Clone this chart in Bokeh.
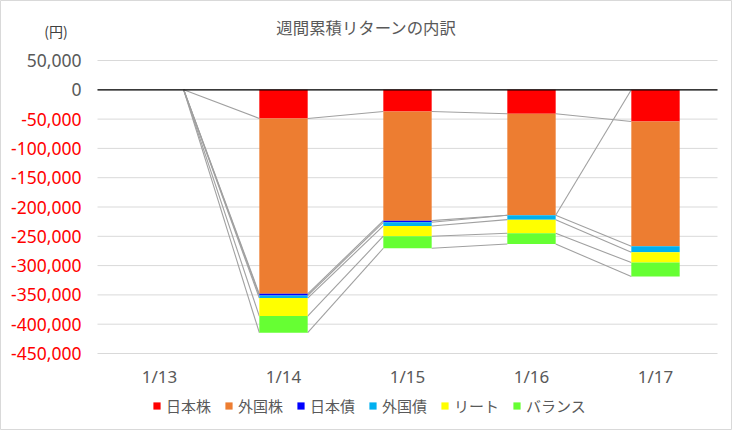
import numpy as np
from bokeh.plotting import figure
from bokeh.models import (ColumnDataSource, FixedTicker, NumeralTickFormatter,
                          Range1d, Label, LinearAxis)
from bokeh.embed import file_html
from bokeh.resources import INLINE

# ---- data ----
dates = ["1/13", "1/14", "1/15", "1/16", "1/17"]
nan = float("nan")
jp_stock = [nan, -48900, -37000, -40900, -54000]
fx_stock = [nan, -299300, -186300, -173300, -213100]
jp_bond = [nan, -2800, -2800, 0, nan]
fx_bond = [nan, -4500, -6200, -7400, -10200]
reit = [nan, -30700, -17600, -23300, -17600]
balance = [nan, -28300, -20500, -18200, -23900]
series_names = ["日本株", "外国株", "日本債", "外国債", "リート", "バランス"]
colors = ["#FF0000", "#ED7D31", "#0000FF", "#00B0F0", "#FFFF00", "#66FF33"]
y_ticks = list(range(-450000, 50001, 50000))
title_text = "週間累積リターンの内訳"
unit_text = "(円)"

# ---- layout (pixels) ----
W, H = 732, 430
PL, PR, PT, PB = 97, 717, 60, 353   # plot area inside the canvas
n = len(dates)
px_x = (PR - PL) / n
px_y = (PB - PT) / (y_ticks[-1] - y_ticks[0])
x_start, x_end = -PL / px_x, n + (W - PR) / px_x
y_start, y_end = y_ticks[0] - (H - PB) / px_y, y_ticks[-1] + PT / px_y

# ---- derived ----
vals = np.array([jp_stock, fx_stock, jp_bond, fx_bond, reit, balance], dtype=float)
xs = [i + 0.5 for i in range(n)]
keys = [f"s{k}" for k in range(len(series_names))]
data = {"x": xs}
for k, key in enumerate(keys):
    data[key] = list(np.nan_to_num(vals[k]))
src = ColumnDataSource(data)

bar_w = 0.39
filled = np.nan_to_num(vals)
cum = np.cumsum(filled, axis=0)
ends = np.where(np.isnan(vals), 0.0, cum)
x0, y0, x1, y1 = [], [], [], []
for k in range(len(series_names)):
    for i in range(n - 1):
        x0.append(xs[i] + bar_w / 2)
        y0.append(ends[k, i])
        x1.append(xs[i + 1] - bar_w / 2)
        y1.append(ends[k, i + 1])

FONT = "Noto Sans"
JFONT = "Noto Sans CJK JP"
GRAY = "#595959"

p = figure(width=W, height=H, x_range=Range1d(x_start, x_end),
           y_range=Range1d(y_start, y_end),
           output_backend="svg", toolbar_location=None,
           x_axis_location=None, y_axis_location=None, min_border=0)
p.outline_line_color = "#D9D9D9"
p.outline_line_width = 1
p.grid.grid_line_color = None

# grid lines over the plot area only
p.segment(x0=[0] * len(y_ticks), x1=[n] * len(y_ticks), y0=y_ticks, y1=y_ticks,
          line_color="#D9D9D9", line_width=1)

# series lines
p.segment(x0=x0, y0=y0, x1=x1, y1=y1, line_color="#A0A0A0", line_width=1.1)

# bars
p.vbar_stack(keys, x="x", width=bar_w, source=src, fill_color=colors,
             line_color=None, legend_label=series_names)

# zero line
p.segment(x0=[0], x1=[n], y0=[0], y1=[0], line_color="black", line_width=1.2)

# y axes (red negatives, gray non-negatives)
def y_axis(ticks, color):
    ax = LinearAxis(fixed_location=0, ticker=FixedTicker(ticks=ticks),
                    formatter=NumeralTickFormatter(format="0,0"))
    ax.axis_line_color = None
    ax.major_tick_line_color = None
    ax.minor_tick_line_color = None
    ax.major_tick_out = 0
    ax.major_tick_in = 0
    ax.major_label_standoff = 16
    ax.major_label_text_font = FONT
    ax.major_label_text_font_size = "17.5px"
    ax.major_label_text_color = color
    p.add_layout(ax, "left")

y_axis([t for t in y_ticks if t < 0], "#FF0000")
y_axis([t for t in y_ticks if t >= 0], GRAY)

# x axis
xa = LinearAxis(fixed_location=y_ticks[0], ticker=FixedTicker(ticks=xs))
xa.major_label_overrides = {x: d for x, d in zip(xs, dates)}
xa.axis_line_color = None
xa.major_tick_line_color = None
xa.minor_tick_line_color = None
xa.major_tick_out = 0
xa.major_tick_in = 0
xa.major_label_standoff = 11
xa.major_label_text_font = FONT
xa.major_label_text_font_size = "17px"
xa.major_label_text_color = GRAY
p.add_layout(xa, "below")

# title and unit (screen px, measured from the bottom-left of the canvas)
p.add_layout(Label(x=366, y=H - 26, x_units="screen", y_units="screen",
                   text=title_text, text_align="center", text_baseline="middle",
                   text_font=JFONT, text_font_size="16.4px", text_color=GRAY))
p.add_layout(Label(x=55.5, y=H - 30.5, x_units="screen", y_units="screen",
                   text=unit_text, text_align="center", text_baseline="middle",
                   text_font=JFONT, text_font_size="14px", text_color="#404040"))

# legend
lg = p.legend[0]
lg.location = (152, 14)
lg.orientation = "horizontal"
lg.background_fill_alpha = 0
lg.border_line_color = None
lg.padding = 0
lg.margin = 0
lg.spacing = 13
lg.glyph_width = 9
lg.glyph_height = 9
lg.label_standoff = 5
lg.label_text_font = JFONT
lg.label_text_font_size = "15px"
lg.label_text_color = GRAY

open("out.html", "w").write(file_html(p, INLINE))
